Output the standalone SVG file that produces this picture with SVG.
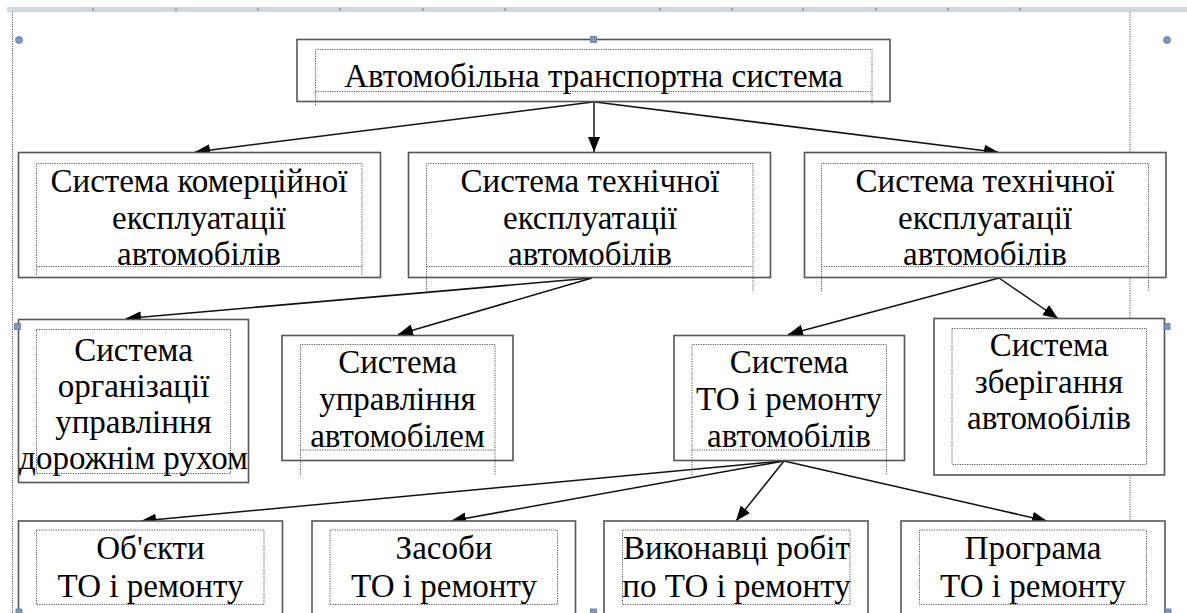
<svg xmlns="http://www.w3.org/2000/svg" width="1187" height="613" viewBox="0 0 1187 613">
<defs>
<style>
.box{fill:#fff;stroke:#555;stroke-width:1.6}
.dot{fill:none;stroke:#555;stroke-width:1;stroke-dasharray:1.2 1.2}
.con{fill:none;stroke:#111;stroke-width:1.5}
.t{font-family:"Liberation Serif","Times New Roman","DejaVu Serif",serif;font-size:33px;fill:#000;text-anchor:middle}
.h{fill:#7f97bd;stroke:#5c77a3;stroke-width:0.8}
</style>
<marker id="ah" markerUnits="userSpaceOnUse" markerWidth="16" markerHeight="12" refX="15" refY="6" orient="auto">
<path d="M0,0 L15,6 L0,12 z" fill="#000"/>
</marker>
</defs>
<rect width="1187" height="613" fill="#fff"/>
<g id="ruler">
<rect x="7" y="7" width="1180" height="5" fill="#d4d7dc"/>
<g stroke="#777" stroke-width="1">
<line x1="93" y1="8" x2="93" y2="11"/><line x1="176" y1="8" x2="176" y2="11"/><line x1="258" y1="8" x2="258" y2="11"/><line x1="340" y1="8" x2="340" y2="11"/><line x1="423" y1="8" x2="423" y2="11"/><line x1="505" y1="8" x2="505" y2="11"/><line x1="660" y1="8" x2="660" y2="11"/><line x1="732" y1="8" x2="732" y2="11"/><line x1="803" y1="8" x2="803" y2="11"/><line x1="876" y1="8" x2="876" y2="11"/><line x1="948" y1="8" x2="948" y2="11"/><line x1="1020" y1="8" x2="1020" y2="11"/>
</g>
<line class="dot" x1="12.5" y1="12" x2="12.5" y2="613"/>
<line class="dot" x1="1130" y1="12" x2="1130" y2="613"/>
</g>
<g id="connectors">
<line class="con" x1="593" y1="102" x2="195" y2="152" marker-end="url(#ah)"/>
<line class="con" x1="594" y1="102" x2="594" y2="152" marker-end="url(#ah)"/>
<line class="con" x1="595" y1="102" x2="999" y2="152.5" marker-end="url(#ah)"/>
<line class="con" x1="592" y1="278" x2="126" y2="318.5" marker-end="url(#ah)"/>
<line class="con" x1="592" y1="278" x2="398" y2="334.5" marker-end="url(#ah)"/>
<line class="con" x1="999" y1="278" x2="788" y2="334.5" marker-end="url(#ah)"/>
<line class="con" x1="999" y1="278" x2="1058" y2="318.5" marker-end="url(#ah)"/>
<line class="con" x1="784" y1="461" x2="141" y2="521" marker-end="url(#ah)"/>
<line class="con" x1="784" y1="461" x2="451" y2="521" marker-end="url(#ah)"/>
<line class="con" x1="784" y1="461" x2="736" y2="521" marker-end="url(#ah)"/>
<line class="con" x1="784" y1="461" x2="1047" y2="521" marker-end="url(#ah)"/>
</g>
<g id="n-top">
<rect class="box" x="297" y="39.5" width="593" height="62"/>
<path class="dot" d="M315.5,105 V49.5 H872 V104 M315.5,91.5 H872"/>
<text class="t" x="593.5" y="87">Автомобільна транспортна система</text>
</g>
<g id="n-commercial">
<rect class="box" x="18.5" y="152.5" width="362" height="125"/>
<path class="dot" d="M36.5,275 V163.5 H362 V275 M36.5,266.5 H362"/>
<text class="t" x="199" y="192">Система комерційної</text>
<text class="t" x="199" y="228.5">експлуатації</text>
<text class="t" x="199" y="265">автомобілів</text>
</g>
<g id="n-tech1">
<rect class="box" x="408.5" y="152.5" width="362" height="125"/>
<path class="dot" d="M426.5,291.5 V163.5 H753 V291.5 M426.5,266.5 H753"/>
<text class="t" x="590" y="192">Система технічної</text>
<text class="t" x="590" y="228.5">експлуатації</text>
<text class="t" x="590" y="265">автомобілів</text>
</g>
<g id="n-tech2">
<rect class="box" x="804.5" y="152.5" width="361.5" height="125"/>
<path class="dot" d="M821.5,291.5 V163.5 H1148.5 V291.5 M821.5,266.5 H1148.5"/>
<text class="t" x="985" y="192">Система технічної</text>
<text class="t" x="985" y="228.5">експлуатації</text>
<text class="t" x="985" y="265">автомобілів</text>
</g>
<g id="n-traffic">
<rect class="box" x="18.5" y="319.5" width="230" height="163"/>
<rect class="dot" x="36.5" y="329.5" width="194" height="144"/>
<text class="t" x="133.5" y="361">Система</text>
<text class="t" x="133.5" y="397">організації</text>
<text class="t" x="133.5" y="433">управління</text>
<text class="t" x="133.5" y="469">дорожнім рухом</text>
</g>
<g id="n-driving">
<rect class="box" x="282" y="335.5" width="231" height="125"/>
<path class="dot" d="M300.5,475 V344.5 H495 V475 M300.5,450 H495"/>
<text class="t" x="397.5" y="373">Система</text>
<text class="t" x="397.5" y="410">управління</text>
<text class="t" x="397.5" y="446.5">автомобілем</text>
</g>
<g id="n-repair">
<rect class="box" x="674" y="335.5" width="230.5" height="125"/>
<path class="dot" d="M692,475 V344.5 H886.5 V475 M692,450 H886.5"/>
<text class="t" x="789" y="373">Система</text>
<text class="t" x="789" y="410">ТО і ремонту</text>
<text class="t" x="789" y="446.5">автомобілів</text>
</g>
<g id="n-storage">
<rect class="box" x="934" y="318.5" width="230.5" height="156.5"/>
<rect class="dot" x="952" y="328.5" width="194.5" height="136"/>
<text class="t" x="1049" y="356">Система</text>
<text class="t" x="1049" y="392.5">зберігання</text>
<text class="t" x="1049" y="429">автомобілів</text>
</g>
<g id="n-objects">
<rect class="box" x="18.5" y="521" width="264" height="100"/>
<rect class="dot" x="36.5" y="530" width="227.5" height="74.5"/>
<text class="t" x="150.5" y="559">Об'єкти</text>
<text class="t" x="150.5" y="596.5">ТО і ремонту</text>
</g>
<g id="n-means">
<rect class="box" x="312" y="521" width="263.5" height="100"/>
<rect class="dot" x="330" y="530" width="227.5" height="74.5"/>
<text class="t" x="444" y="559">Засоби</text>
<text class="t" x="444" y="596.5">ТО і ремонту</text>
</g>
<g id="n-workers">
<rect class="box" x="604" y="521" width="264" height="100"/>
<rect class="dot" x="622.5" y="530" width="227.5" height="74.5"/>
<text class="t" x="736.5" y="559">Виконавці робіт</text>
<text class="t" x="736.5" y="596.5">по ТО і ремонту</text>
</g>
<g id="n-program">
<rect class="box" x="901" y="521" width="264" height="100"/>
<rect class="dot" x="919.5" y="530" width="227" height="74.5"/>
<text class="t" x="1033" y="559">Програма</text>
<text class="t" x="1033" y="596.5">ТО і ремонту</text>
</g>
<g id="handles">
<circle class="h" cx="19" cy="40" r="3.5"/>
<circle class="h" cx="1167" cy="40" r="3.5"/>
<rect class="h" x="590.5" y="36.5" width="6" height="6"/>
<rect class="h" x="14.5" y="323.5" width="6" height="6"/>
<rect class="h" x="1164" y="323.5" width="6" height="6"/>
<rect class="h" x="590.5" y="609" width="6" height="6"/>
<rect class="h" x="16" y="609" width="6" height="6"/>
<rect class="h" x="1165" y="609" width="6" height="6"/>
</g>
</svg>
